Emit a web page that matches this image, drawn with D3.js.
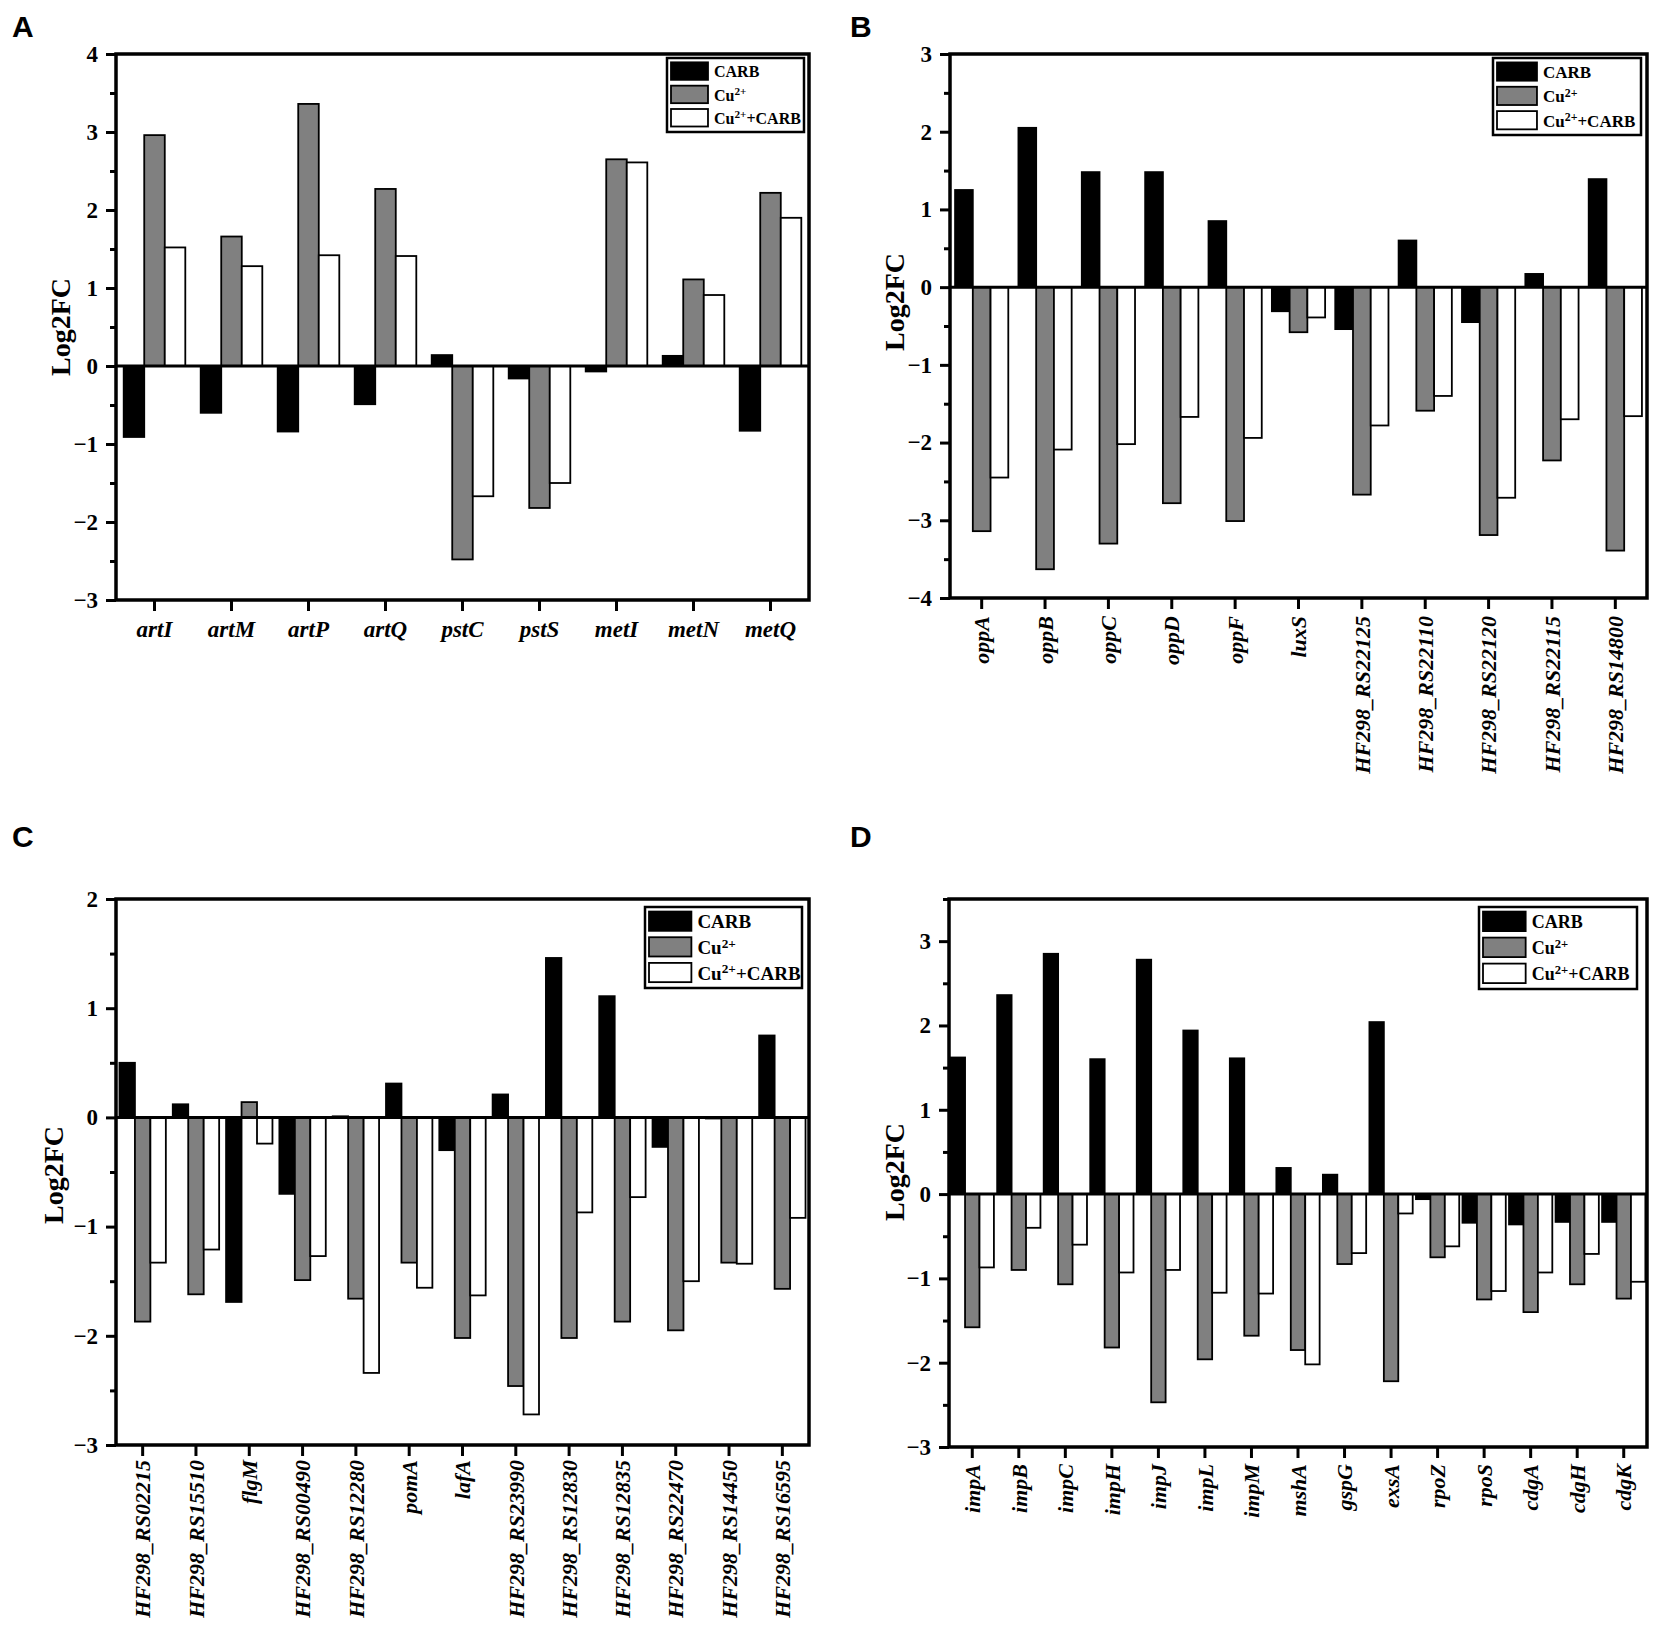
<!DOCTYPE html>
<html>
<head>
<meta charset="utf-8">
<script src="https://cdn.jsdelivr.net/npm/d3@7"></script>
<style>
  body { margin: 0; background: #fff; }
</style>
</head>
<body>
<script>
// series order in every panel: CARB, Cu2+, Cu2+ + CARB
const seriesFill = ["#000000", "#808080", "#ffffff"];

const genesA = ["artI", "artM", "artP", "artQ", "pstC", "pstS", "metI", "metN", "metQ"];
const carbA = [-0.91, -0.60, -0.84, -0.49, 0.14, -0.16, -0.07, 0.13, -0.83];
const cuA = [2.96, 1.66, 3.36, 2.27, -2.48, -1.82, 2.65, 1.11, 2.22];
const cuCarbA = [1.52, 1.28, 1.42, 1.41, -1.67, -1.50, 2.61, 0.91, 1.90];

const genesB = ["oppA", "oppB", "oppC", "oppD", "oppF", "luxS",
  "HF298_RS22125", "HF298_RS22110", "HF298_RS22120", "HF298_RS22115", "HF298_RS14800"];
const carbB = [1.25, 2.05, 1.48, 1.48, 0.85, -0.31, -0.54, 0.60, -0.45, 0.17, 1.39];
const cuB = [-3.14, -3.63, -3.30, -2.78, -3.01, -0.58, -2.67, -1.59, -3.19, -2.23, -3.39];
const cuCarbB = [-2.45, -2.09, -2.02, -1.67, -1.94, -0.39, -1.78, -1.40, -2.71, -1.70, -1.66];

const genesC = ["HF298_RS02215", "HF298_RS15510", "flgM", "HF298_RS00490", "HF298_RS12280",
  "pomA", "lafA", "HF298_RS23990", "HF298_RS12830", "HF298_RS12835", "HF298_RS22470",
  "HF298_RS14450", "HF298_RS16595"];
const carbC = [0.50, 0.12, -1.69, -0.70, 0.01, 0.31, -0.30, 0.21, 1.46, 1.11, -0.27, -0.01, 0.75];
const cuC = [-1.87, -1.62, 0.14, -1.49, -1.66, -1.33, -2.02, -2.46, -2.02, -1.87, -1.95, -1.33, -1.57];
const cuCarbC = [-1.33, -1.21, -0.24, -1.27, -2.34, -1.56, -1.63, -2.72, -0.87, -0.73, -1.50, -1.34, -0.92];

const genesD = ["impA", "impB", "impC", "impH", "impJ", "impL", "impM", "mshA", "gspG",
  "exsA", "rpoZ", "rpoS", "cdgA", "cdgH", "cdgK"];
const carbD = [1.62, 2.36, 2.85, 1.60, 2.78, 1.94, 1.61, 0.31, 0.23, 2.04, -0.06, -0.34, -0.36, -0.33, -0.33];
const cuD = [-1.58, -0.90, -1.07, -1.82, -2.47, -1.96, -1.68, -1.85, -0.83, -2.22, -0.75, -1.25, -1.40, -1.07, -1.24];
const cuCarbD = [-0.87, -0.40, -0.60, -0.93, -0.90, -1.17, -1.18, -2.02, -0.70, -0.23, -0.62, -1.15, -0.93, -0.71, -1.04];

const serif = "'Liberation Serif', 'Times New Roman', serif";

const svg = d3.select("body").append("svg")
  .attr("width", 1654)
  .attr("height", 1633);

function drawPanel(p) {
  const g = svg.append("g");

  const x = d3.scaleBand()
    .domain(p.genes)
    .range([p.x0, p.x1])
    .paddingInner(0)
    .paddingOuter(0);

  const inner = d3.scaleBand()
    .domain([0, 1, 2])
    .range([0, x.bandwidth() * p.group]);

  const y = d3.scaleLinear()
    .domain(p.domain)
    .range([p.y1, p.y0]);

  // panel letter
  svg.append("text")
    .attr("x", p.letterX)
    .attr("y", p.letterY)
    .style("font-family", "'Liberation Sans', Arial, sans-serif")
    .style("font-weight", "bold")
    .style("font-size", "30px")
    .text(p.letter);

  // bars
  const series = [p.carb, p.cu, p.cuCarb];
  series.forEach((vals, s) => {
    g.selectAll(".bar" + s)
      .data(vals)
      .enter()
      .append("rect")
      .attr("x", (d, i) => x(p.genes[i]) + (x.bandwidth() * (1 - p.group)) / 2 + inner(s))
      .attr("y", d => y(Math.max(0, d)))
      .attr("width", inner.bandwidth())
      .attr("height", d => Math.abs(y(d) - y(0)))
      .attr("fill", seriesFill[s])
      .attr("stroke", "#000")
      .attr("stroke-width", 1.8);
  });

  // zero line
  g.append("line")
    .attr("x1", p.x0).attr("x2", p.x1)
    .attr("y1", y(0)).attr("y2", y(0))
    .attr("stroke", "#000")
    .attr("stroke-width", 3);

  // minor ticks
  g.append("g")
    .attr("transform", `translate(${p.x0},0)`)
    .call(d3.axisLeft(y).tickValues(p.minor).tickSize(6).tickFormat(""))
    .call(a => a.select(".domain").remove())
    .call(a => a.selectAll("line").attr("stroke-width", 3));

  // y axis
  const yAxis = g.append("g")
    .attr("transform", `translate(${p.x0},0)`)
    .call(d3.axisLeft(y).tickValues(p.major).tickSize(10).tickSizeOuter(0).tickPadding(8)
      .tickFormat(d3.format("d")));
  yAxis.select(".domain").remove();
  yAxis.selectAll("line").attr("stroke-width", 3);
  yAxis.selectAll("text")
    .style("font-family", serif)
    .style("font-weight", "bold")
    .style("font-size", p.tickFont + "px");

  // x axis
  const xAxis = g.append("g")
    .attr("transform", `translate(0,${p.y1})`)
    .call(d3.axisBottom(x).tickSize(11).tickSizeOuter(0).tickPadding(10));
  xAxis.select(".domain").remove();
  xAxis.selectAll("line").attr("stroke-width", 3);
  const xt = xAxis.selectAll("text")
    .style("font-family", serif)
    .style("font-weight", "bold")
    .style("font-style", "italic")
    .style("font-size", p.labelFont + "px");
  if (p.rotate) {
    xt.attr("transform", "rotate(-90)")
      .attr("text-anchor", "end")
      .attr("x", -(11 + p.labelGap))
      .attr("y", 0)
      .attr("dy", "0.35em");
  }

  // frame
  g.append("rect")
    .attr("x", p.x0).attr("y", p.y0)
    .attr("width", p.x1 - p.x0).attr("height", p.y1 - p.y0)
    .attr("fill", "none")
    .attr("stroke", "#000")
    .attr("stroke-width", 3.5);

  // y label
  g.append("text")
    .attr("transform", `translate(${p.x0 - p.yLabelOff},${p.yLabelY}) rotate(-90)`)
    .attr("text-anchor", "middle")
    .attr("dy", "0.35em")
    .style("font-family", serif)
    .style("font-weight", "bold")
    .style("font-size", "28px")
    .text("Log2FC");

  // legend
  const L = p.legend;
  const lg = g.append("g").attr("transform", `translate(${L.x},${L.y})`);
  lg.append("rect")
    .attr("width", L.w).attr("height", L.h)
    .attr("fill", "#fff")
    .attr("stroke", "#000")
    .attr("stroke-width", 2.5);
  const rowH = (L.h - 4) / 3;
  const swW = L.w * 0.27;
  [0, 1, 2].forEach(s => {
    const ry = 2 + s * rowH;
    lg.append("rect")
      .attr("x", 4).attr("y", ry + rowH * 0.1)
      .attr("width", swW).attr("height", rowH * 0.75)
      .attr("fill", seriesFill[s])
      .attr("stroke", "#000")
      .attr("stroke-width", 1.8);
    const t = lg.append("text")
      .attr("x", swW + 10)
      .attr("y", ry + rowH * 0.5)
      .attr("dy", "0.35em")
      .style("font-family", serif)
      .style("font-weight", "bold")
      .style("font-size", L.font + "px");
    if (s === 0) {
      t.text("CARB");
    } else {
      t.append("tspan").text("Cu");
      t.append("tspan").attr("dy", "-0.5em").style("font-size", "0.7em").text("2+");
      if (s === 2) t.append("tspan").attr("dy", "0.35em").text("+CARB");
    }
  });
}

drawPanel({
  letter: "A", letterX: 12, letterY: 37,
  genes: genesA, carb: carbA, cu: cuA, cuCarb: cuCarbA,
  x0: 116, x1: 809, y0: 54, y1: 600,
  domain: [-3, 4], major: d3.range(-3, 5), minor: d3.range(-2.5, 4, 1),
  group: 0.8, rotate: false, tickFont: 23, labelFont: 23, labelGap: 8,
  yLabelOff: 56, yLabelY: 327,
  legend: { x: 667, y: 58, w: 137, h: 74, font: 16 }
});

drawPanel({
  letter: "B", letterX: 850, letterY: 37,
  genes: genesB, carb: carbB, cu: cuB, cuCarb: cuCarbB,
  x0: 950, x1: 1647, y0: 54, y1: 598,
  domain: [-4, 3], major: d3.range(-4, 4), minor: d3.range(-3.5, 3, 1),
  group: 0.84, rotate: true, tickFont: 23, labelFont: 22, labelGap: 7,
  yLabelOff: 56, yLabelY: 302,
  legend: { x: 1493, y: 58, w: 148, h: 77, font: 17 }
});

drawPanel({
  letter: "C", letterX: 12, letterY: 847,
  genes: genesC, carb: carbC, cu: cuC, cuCarb: cuCarbC,
  x0: 116, x1: 809, y0: 899, y1: 1445,
  domain: [-3, 2], major: d3.range(-3, 3), minor: d3.range(-2.5, 2, 1),
  group: 0.87, rotate: true, tickFont: 23, labelFont: 22, labelGap: 4,
  yLabelOff: 63, yLabelY: 1175,
  legend: { x: 645, y: 907, w: 157, h: 81, font: 19 }
});

drawPanel({
  letter: "D", letterX: 850, letterY: 847,
  genes: genesD, carb: carbD, cu: cuD, cuCarb: cuCarbD,
  x0: 949, x1: 1647, y0: 899, y1: 1447,
  domain: [-3, 3.5], major: d3.range(-3, 4), minor: d3.range(-2.5, 4, 1),
  group: 0.93, rotate: true, tickFont: 23, labelFont: 22, labelGap: 6,
  yLabelOff: 55, yLabelY: 1172,
  legend: { x: 1479, y: 907, w: 158, h: 82, font: 18 }
});
</script>
</body>
</html>
